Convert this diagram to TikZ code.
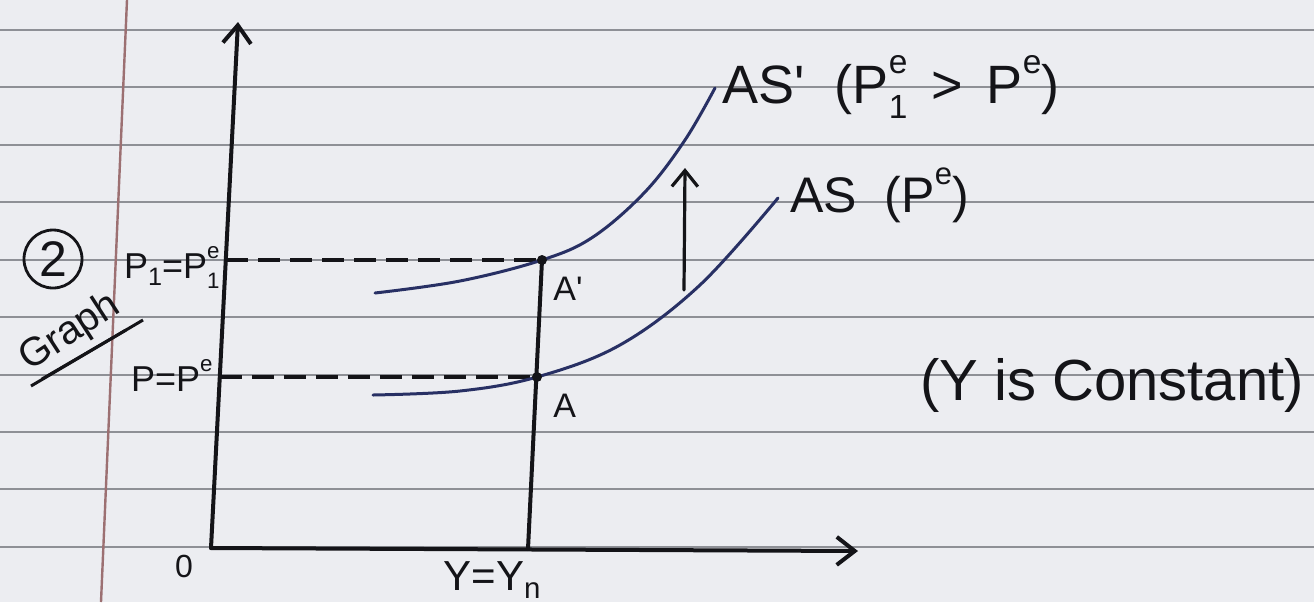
\documentclass[tikz,border=0pt]{standalone}
\usepackage{fontspec}
\setmainfont{Liberation Sans}
\usetikzlibrary{arrows.meta}
\definecolor{paper}{HTML}{ECEDF1}
\definecolor{rulecol}{HTML}{8E9096}
\definecolor{margincol}{HTML}{9C7072}
\definecolor{ink}{HTML}{141418}
\definecolor{curvecol}{HTML}{283064}
\newcommand{\fsz}[1]{\fontsize{#1}{#1}\selectfont}
\newcommand{\supsub}[2]{\rlap{\raisebox{0.55em}{\scalebox{0.62}{#1}}}\raisebox{-0.28em}{\scalebox{0.62}{#2}}}
\newcommand{\onlysup}[1]{\raisebox{0.55em}{\scalebox{0.62}{#1}}}
\newcommand{\onlysub}[1]{\raisebox{-0.2em}{\scalebox{0.7}{#1}}}
\begin{document}
\begin{tikzpicture}[x=0.5pt,y=-0.5pt,
  axis/.style={draw=ink,line width=2pt,line cap=round},
  barb/.style={-{Straight Barb[length=9pt,width=14pt,line width=2pt]}},
  guide/.style={draw=ink,line width=1.8pt,dash pattern=on 11pt off 5pt},
  ascurve/.style={draw=curvecol,line width=1.5pt,line cap=round},
  lbl/.style={text=ink,inner sep=0pt},
  ruled/.style={draw=rulecol,line width=1pt},
  dot/.style={fill=ink}]
\fill[paper] (0,0) rectangle (1314,602);
\useasboundingbox (0,0) rectangle (1314,602);
\foreach \yy in {30,87,145,202,260,317,375,432,489,547}
  \draw[ruled] (0,\yy) -- (1314,\yy);
\coordinate (Mtop) at (127,0);
\coordinate (Mbot) at (101,602);
\draw[margincol,line width=1.2pt] (Mtop) -- (Mbot);
% axes
\coordinate (O) at (211,548);
\coordinate (Ytip) at (238,22);
\coordinate (Xtip) at (858,551);
\coordinate (Ap) at (542,260);
\coordinate (A) at (537,377);
\coordinate (Yn) at (528,549);
\coordinate (Pone) at (226,260);
\coordinate (Pzero) at (220,377);
\draw[axis,barb] (O) -- (Ytip);
\draw[axis,barb] (O) -- (Xtip);
\draw[axis] (Yn) -- (Ap);
\draw[guide] (Pone) -- (Ap);
\draw[guide] (Pzero) -- (A);
% curves
\draw[ascurve] plot[smooth,tension=0.6] coordinates {(375,293) (460,281) (542,260) (593,237) (645,192) (685,140) (715,88)};
\draw[ascurve] plot[smooth,tension=0.6] coordinates {(373,395) (460,391) (537,377) (620,345) (700,285) (778,198)};
\fill[dot] (Ap) circle[radius=2.5pt];
\fill[dot] (A) circle[radius=2.5pt];
% shift arrow
\coordinate (ShLo) at (684,290);
\coordinate (ShHi) at (685,168);
\draw[axis,line width=1.6pt,-{Straight Barb[length=8pt,width=13pt,line width=1.6pt]}] (ShLo) -- (ShHi);
% labels
\node[lbl,anchor=base west,font=\fsz{27}] (aspl) at (722,103) {AS\textquotesingle\ \ (P\supsub{e}{1} \,>\, P\onlysup{e})};
\node[lbl,anchor=base west,font=\fsz{25}] (asl) at (790,212) {AS \ (P\onlysup{e})};
\node[lbl,anchor=base,font=\fsz{29}] (yc) at (1112,400) {(Y is Constant)};
\node[lbl,anchor=base east,font=\fsz{18}] (p1) at (220,278) {P\onlysub{1}=P\supsub{e}{1}};
\node[lbl,anchor=base east,font=\fsz{18}] (p0) at (213,391) {P=P\onlysup{e}};
\node[lbl,anchor=base,font=\fsz{21}] (ynl) at (492,590) {Y=Y\onlysub{n}};
\node[lbl,anchor=base,font=\fsz{16}] (zero) at (184,577) {0};
\node[lbl,anchor=base west,font=\fsz{17}] (apl) at (553,300) {A\textquotesingle};
\node[lbl,anchor=base west,font=\fsz{17}] (al) at (553,417) {A};
\node[circle,draw=ink,line width=1.4pt,minimum size=29pt,inner sep=0pt,text=ink,font=\fsz{25}] (num) at (53,259) {2};
\node[lbl,rotate=33,font=\fsz{20}] (graph) at (70,333) {Graph};
\coordinate (U1a) at (31,386);
\coordinate (U1b) at (143,320);
\coordinate (U2a) at (42,379);
\coordinate (U2b) at (126,330);
\draw[ink,line width=1.5pt] (U1a) -- (U1b);
\draw[ink,line width=1.5pt] (U2a) -- (U2b);
\end{tikzpicture}
\end{document}
